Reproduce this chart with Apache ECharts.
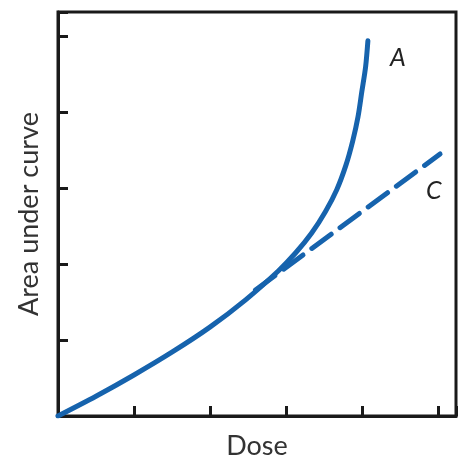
<!DOCTYPE html>
<html>
<head>
<meta charset="utf-8">
<script src="https://cdn.jsdelivr.net/npm/echarts@6/dist/echarts.min.js"></script>
<style>
  html, body { margin: 0; padding: 0; background: #fff; }
  #main { width: 462px; height: 459px; }
</style>
</head>
<body>
<div id="main"></div>
<script>
  // curve A (dose, area)
  var curveA = [
    [0, 0], [0.5, 0.26], [1.0, 0.54], [1.5, 0.84], [2.0, 1.17],
    [2.47, 1.53], [2.9, 1.91], [3.13, 2.15], [3.34, 2.41], [3.52, 2.69],
    [3.67, 2.98], [3.79, 3.3], [3.88, 3.62], [3.95, 3.94], [4.0, 4.27],
    [4.05, 4.6], [4.08, 4.94]
  ];
  // curve C, dashed straight continuation
  var curveC = [[2.6, 1.66], [5.03, 3.45]];
  var xMax = 5.24;
  var yMax = 5.32;

  var chartDom = document.getElementById("main");
  var myChart = echarts.init(chartDom);
  var blue = "#1663ad";
  var nameFont = { fontFamily: "Lato", fontSize: 27, color: "#333" };
  var option = {
    animation: false,
    grid: {
      left: 58, right: 6, top: 12, bottom: 43,
      outerBoundsMode: "none",
      show: true, borderColor: "#1a1a1a", borderWidth: 3
    },
    xAxis: {
      type: "value", min: 0, max: xMax, interval: 1,
      name: "Dose", nameLocation: "middle", nameGap: 17,
      nameTextStyle: nameFont,
      axisLine: { lineStyle: { color: "#1a1a1a", width: 3 } },
      axisTick: { inside: true, length: 10, lineStyle: { color: "#1a1a1a", width: 3 } },
      axisLabel: { show: false },
      splitLine: { show: false }
    },
    yAxis: {
      type: "value", min: 0, max: yMax, interval: 1,
      name: "Area under curve", nameLocation: "middle", nameGap: 15,
      nameTextStyle: nameFont,
      axisLine: { lineStyle: { color: "#1a1a1a", width: 3 } },
      axisTick: { inside: true, length: 10, lineStyle: { color: "#1a1a1a", width: 3 } },
      axisLabel: { show: false },
      splitLine: { show: false }
    },
    series: [
      {
        name: "A", type: "line", data: curveA, smooth: 0.3,
        symbol: "none",
        lineStyle: { color: blue, width: 5, cap: "round" },
        endLabel: {
          show: true, formatter: "A", offset: [14, 17],
          fontFamily: "Lato", fontStyle: "italic", fontSize: 25, color: "#222"
        }
      },
      {
        name: "C", type: "line", data: curveC,
        symbol: "none",
        lineStyle: { color: blue, width: 5, type: [24, 11], cap: "round" },
        endLabel: {
          show: true, formatter: "C", offset: [-22, 37],
          fontFamily: "Lato", fontStyle: "italic", fontSize: 25, color: "#222"
        }
      }
    ]
  };
  option && myChart.setOption(option);
</script>
</body>
</html>
